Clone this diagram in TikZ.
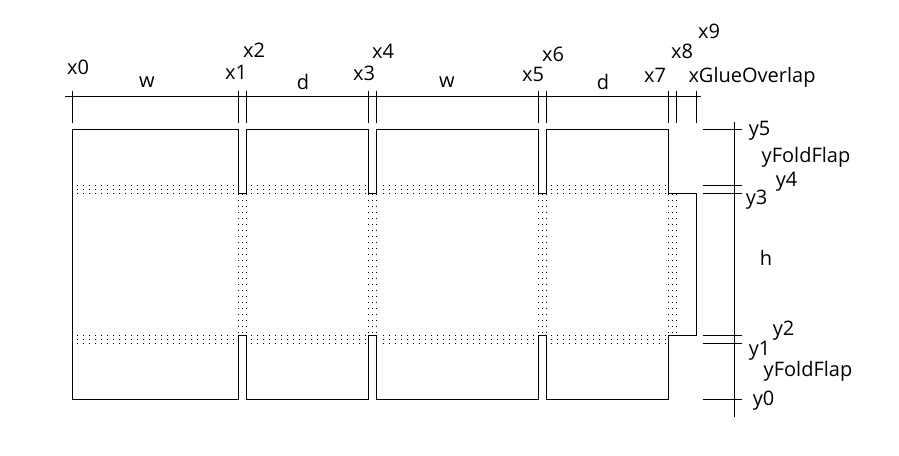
\documentclass[tikz,border=0pt]{standalone}
\usepackage{fontspec}
\setmainfont{Open Sans}
\usepackage{tikz}
\usetikzlibrary{positioning,calc}

\begin{document}
\begin{tikzpicture}[
    x=1pt, y=-1pt,
    outline/.style={line width=1pt, black, shift={(0.5,0.5)}},
    measure/.style={line width=1pt, black, shift={(0.5,0.5)}},
    label/.style={inner sep=0pt, font=\fontsize{20}{23}\selectfont},
    speck/.style={fill=black}
]
    \useasboundingbox (0,0) rectangle (899,455);

    % fold lines
    \foreach \a/\b in {77/233,251/365,383/533,551/665}
        \foreach \ya in {185,189,193,335,339,343} {
            \pgfmathsetmacro{\c}{\a+6}
            \foreach \xa in {\a,\c,...,\b}
                \fill[speck] (\xa,\ya) rectangle +(1,1);
        }
    \foreach \xa in {238,242,246,368,372,376,538,542,546,668,672,676}
        \foreach \ya in {194,200,...,332}
            \fill[speck] (\xa,\ya) rectangle +(1,1);

    % box outline
    \draw[outline] (72,129) -- (238,129) -- (238,193) -- (246,193) -- (246,129)
        -- (368,129) -- (368,193) -- (376,193) -- (376,129)
        -- (538,129) -- (538,193) -- (546,193) -- (546,129)
        -- (668,129) -- (668,193) -- (696,193) -- (696,335) -- (668,335) -- (668,399)
        -- (546,399) -- (546,335) -- (538,335) -- (538,399)
        -- (376,399) -- (376,335) -- (368,335) -- (368,399)
        -- (246,399) -- (246,335) -- (238,335) -- (238,399)
        -- (72,399) -- cycle;

    % measures
    \coordinate (hstart) at (65,96);
    \coordinate (hend) at (701,96);
    \coordinate (vstart) at (734,122);
    \coordinate (vend) at (734,417);
    \draw[measure] (hstart) -- (hend);
    \draw[measure] (vstart) -- (vend);
    \foreach \xa in {72,238,246,368,376,538,546,668,676,696}
        \draw[measure] (\xa,90) -- (\xa,122);
    \foreach \ya in {129,185,193,335,343,399}
        \draw[measure] (702,\ya) -- (741,\ya);

    \node[label] (x0) at (78,67) {x0};
    \node[label] (x1) at (236,72) {x1};
    \node[label] (x2) at (254,50) {x2};
    \node[label] (x3) at (364,73) {x3};
    \node[label] (x4) at (383,51) {x4};
    \node[label] (x5) at (533,74) {x5};
    \node[label] (x6) at (553,54) {x6};
    \node[label] (x7) at (655,75) {x7};
    \node[label] (x8) at (682,51) {x8};
    \node[label] (x9) at (709,31) {x9};
    \node[label] (w1) at (147,82) {w};
    \node[label] (d1) at (303,82) {d};
    \node[label] (w2) at (447,82) {w};
    \node[label] (d2) at (603,82) {d};
    \node[label] (glue) at (752,77) {xGlueOverlap};
    \node[label] (y5) at (759.5,131) {y5};
    \node[label] (y4) at (786.5,182) {y4};
    \node[label] (y3) at (756.5,200) {y3};
    \node[label] (y2) at (783.5,331) {y2};
    \node[label] (y1) at (759.5,351) {y1};
    \node[label] (y0) at (763.5,401) {y0};
    \node[label] (flaptop) at (806,157) {yFoldFlap};
    \node[label] (flapbot) at (808,371) {yFoldFlap};
    \node[label] (h) at (766,258) {h};
\end{tikzpicture}
\end{document}
